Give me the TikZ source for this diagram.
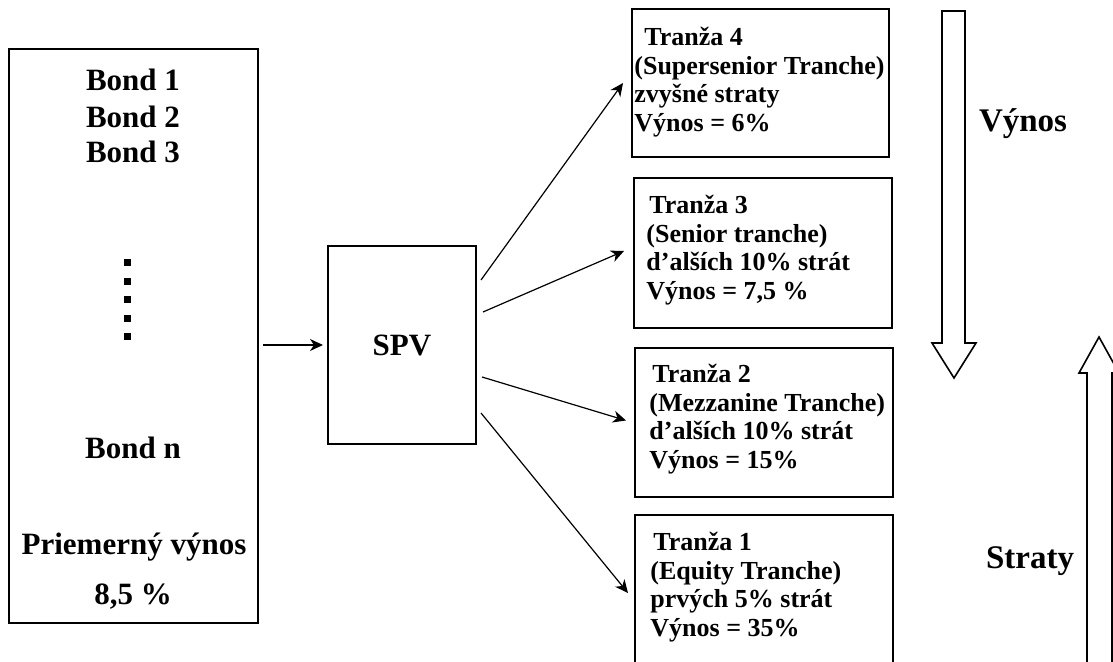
\documentclass[tikz,border=0pt]{standalone}
\usepackage{fontspec}
\setmainfont{Liberation Serif}
\usetikzlibrary{arrows.meta}
\usetikzlibrary{calc}

\tikzset{
  ramec/.style={draw, rectangle, line width=1pt, inner sep=0pt},
  popis/.style={inner sep=0pt, align=center, font=\bfseries\fontsize{15.5}{18}\selectfont},
  tranzatext/.style={anchor=west, align=left, inner sep=0pt, font=\bfseries\fontsize{13}{14.3}\selectfont},
  sipka/.style={-{Stealth[length=6.5pt,width=6pt,inset=2pt]}, line width=0.6pt},
  blok/.style={draw, line width=0.8pt, fill=white}
}

\begin{document}
\begin{tikzpicture}[x=0.5pt, y=-0.5pt]
  \useasboundingbox (0,0) rectangle (1113,662);
  \clip (0,0) rectangle (1113,662);

  % dlhopisy
  \node[ramec, minimum width=124.5pt, minimum height=287pt] (bonds) at (133.5,336) {};
  \node[popis] (b1) at (133,80) {Bond 1};
  \node[popis] (b2) at (133,117) {Bond 2};
  \node[popis] (b3) at (133,152) {Bond 3};
  \foreach \y in {263,281.5,300,318.5,337}
    \fill (124,\y-3.5) rectangle +(7,7);
  \node[popis] (bn) at (133,448) {Bond n};
  \node[popis] (avg) at (134,547) {Priemerný výnos};
  \node[popis] (avgval) at (133,597) {8,5 \%};

  % SPV
  \node[ramec, minimum width=74pt, minimum height=99pt, popis] (spv) at (402,345) {SPV};

  % tranze
  \node[ramec, minimum width=128.5pt, minimum height=74pt] (t4) at (760.5,83) {};
  \node[ramec, minimum width=129pt, minimum height=75pt] (t3) at (763,253) {};
  \node[ramec, minimum width=129pt, minimum height=74.5pt] (t2) at (764,422.5) {};
  \node[ramec, minimum width=129pt, minimum height=75pt] (t1) at (764,590) {};

  \node[tranzatext] (t4txt) at (634,82) {\hspace{5pt}Tranža 4\\(Supersenior Tranche)\\zvyšné straty\\Výnos = 6\%};
  \node[tranzatext] (t3txt) at (646,250) {\hspace{1.5pt}Tranža 3\\(Senior tranche)\\d’alších 10\% strát\\Výnos = 7,5 \%};
  \node[tranzatext] (t2txt) at (649,419) {\hspace{1.5pt}Tranža 2\\(Mezzanine Tranche)\\d’alších 10\% strát\\Výnos = 15\%};
  \node[tranzatext] (t1txt) at (650,587) {\hspace{1.5pt}Tranža 1\\(Equity Tranche)\\prvých 5\% strát\\Výnos = 35\%};

  % sipky
  \draw[sipka] ([xshift=2pt]bonds.east |- spv.west) -- ([xshift=-2pt]spv.west);
  \foreach \ciel/\sx/\sy/\ex/\ey in {t4/4/-65/-8/0, t3/6/-33/-9/-2, t2/5/32/-8/-2, t1/4/68/-6/3}
    \draw[sipka] ([shift={(\sx,\sy)}]spv.east) -- ([shift={(\ex,\ey)}]\ciel.west);

  % vynos a straty
  \draw[blok] (942,11) -- (965,11) -- (965,343) -- (976,343) -- (954,378)
    -- (932,343) -- (942,343) -- cycle;
  \draw[blok] (1087,700) -- (1087,373) -- (1079,373) -- (1099,337) -- (1119,373)
    -- (1112,373) -- (1112,700);
  \node[popis, font=\bfseries\fontsize{16.5}{19}\selectfont] (vynos) at (1023,124) {Výnos};
  \node[popis, font=\bfseries\fontsize{16.5}{19}\selectfont] (straty) at (1030,561) {Straty};
\end{tikzpicture}
\end{document}
